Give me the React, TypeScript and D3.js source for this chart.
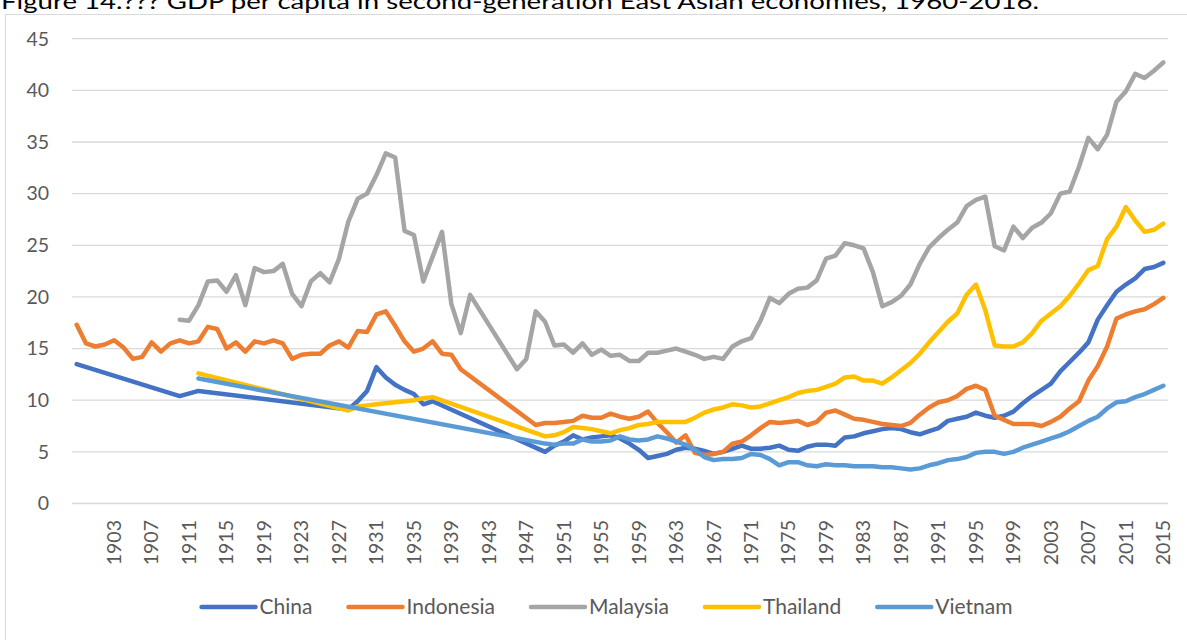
import React, { useRef, useEffect } from 'react';
import * as d3 from 'd3';

const _ = null;

// categories as labelled on the axis
const years = d3.range(1899, 2016);

// GDP per capita (relative), one value per category, null = no data
const china = [
  13.5, _, _, _, _, _, _, _, _, _,
  _, 10.4, _, 10.9, _, _, _, _, _, _,
  _, _, _, _, _, _, _, _, _, 9.1,
  9.9, 10.9, 13.2, 12.2, 11.5, 11.0, 10.6, 9.6, 9.9, _,
  _, _, _, _, _, _, _, _, _, _,
  5.0, 5.6, 6.0, 6.6, 6.2, 6.4, 6.5, 6.6, 6.3, 5.8,
  5.2, 4.4, 4.6, 4.8, 5.2, 5.4, 5.3, 5.1, 4.8, 5.0,
  5.3, 5.6, 5.3, 5.3, 5.4, 5.6, 5.2, 5.1, 5.5, 5.7,
  5.7, 5.6, 6.4, 6.5, 6.8, 7.0, 7.2, 7.3, 7.2, 6.9,
  6.7, 7.0, 7.3, 8.0, 8.2, 8.4, 8.8, 8.5, 8.3, 8.5,
  8.9, 9.7, 10.4, 11.0, 11.6, 12.8, 13.7, 14.6, 15.6, 17.8,
  19.2, 20.5, 21.2, 21.8, 22.7, 22.9, 23.3,
];

const indonesia = [
  17.3, 15.5, 15.2, 15.4, 15.8, 15.1, 14.0, 14.2, 15.6, 14.7,
  15.5, 15.8, 15.5, 15.7, 17.1, 16.9, 15.0, 15.6, 14.7, 15.7,
  15.5, 15.8, 15.5, 14.0, 14.4, 14.5, 14.5, 15.3, 15.7, 15.1,
  16.7, 16.6, 18.3, 18.6, 17.2, 15.7, 14.7, 15.0, 15.7, 14.5,
  14.4, 13.0, _, _, _, _, _, _, _, 7.6,
  7.8, 7.8, 7.9, 8.0, 8.5, 8.3, 8.3, 8.7, 8.4, 8.2,
  8.4, 8.9, 7.8, 6.9, 5.9, 6.6, 4.9, 4.7, 4.8, 5.0,
  5.8, 6.0, 6.6, 7.3, 7.9, 7.8, 7.9, 8.0, 7.6, 7.9,
  8.8, 9.0, 8.6, 8.2, 8.1, 7.9, 7.7, 7.6, 7.5, 7.8,
  8.6, 9.3, 9.8, 10.0, 10.4, 11.1, 11.4, 11.0, 8.5, 8.1,
  7.7, 7.7, 7.7, 7.5, 7.9, 8.4, 9.2, 9.9, 11.9, 13.3,
  15.2, 17.9, 18.3, 18.6, 18.8, 19.3, 19.9,
];

const malaysia = [
  _, _, _, _, _, _, _, _, _, _,
  _, 17.8, 17.7, 19.2, 21.5, 21.6, 20.5, 22.1, 19.2, 22.8,
  22.4, 22.5, 23.2, 20.3, 19.1, 21.5, 22.3, 21.4, 23.7, 27.3,
  29.5, 30.0, 31.8, 33.9, 33.5, 26.4, 26.0, 21.5, 23.9, 26.3,
  19.3, 16.5, 20.2, _, _, _, _, 13.0, 14.0, 18.6,
  17.6, 15.3, 15.4, 14.6, 15.5, 14.4, 14.9, 14.3, 14.4, 13.8,
  13.8, 14.6, 14.6, 14.8, 15.0, 14.7, 14.4, 14.0, 14.2, 14.0,
  15.2, 15.7, 16.0, 17.7, 19.9, 19.4, 20.3, 20.8, 20.9, 21.6,
  23.7, 24.0, 25.2, 25.0, 24.7, 22.4, 19.1, 19.5, 20.1, 21.2,
  23.2, 24.8, 25.7, 26.5, 27.2, 28.8, 29.4, 29.7, 24.9, 24.5,
  26.8, 25.7, 26.7, 27.2, 28.1, 30.0, 30.2, 32.6, 35.4, 34.3,
  35.7, 38.9, 39.9, 41.6, 41.2, 41.9, 42.7,
];

const thailand = [
  _, _, _, _, _, _, _, _, _, _,
  _, _, _, 12.6, _, _, _, _, _, _,
  _, _, _, _, _, _, _, _, _, 9.0,
  9.4, 9.5, 9.6, 9.7, 9.8, 9.9, 10.0, 10.2, 10.3, _,
  _, _, _, _, _, _, _, _, _, _,
  6.5, 6.6, 6.9, 7.4, 7.3, 7.2, 7.0, 6.8, 7.1, 7.3,
  7.6, 7.7, 7.9, 7.9, 7.9, 7.9, 8.3, 8.8, 9.1, 9.3,
  9.6, 9.5, 9.3, 9.4, 9.7, 10.0, 10.3, 10.7, 10.9, 11.0,
  11.3, 11.6, 12.2, 12.3, 11.9, 11.9, 11.6, 12.2, 12.9, 13.6,
  14.5, 15.6, 16.6, 17.6, 18.4, 20.2, 21.2, 18.7, 15.3, 15.2,
  15.2, 15.6, 16.5, 17.7, 18.4, 19.1, 20.1, 21.3, 22.6, 23.0,
  25.6, 26.8, 28.7, 27.4, 26.3, 26.5, 27.1,
];

const vietnam = [
  _, _, _, _, _, _, _, _, _, _,
  _, _, _, 12.1, _, _, _, _, _, _,
  _, _, _, _, _, _, _, _, _, _,
  _, _, _, _, _, _, _, _, _, _,
  _, _, _, _, _, _, _, _, _, _,
  5.8, 5.7, 5.8, 5.8, 6.2, 6.0, 6.0, 6.1, 6.5, 6.2,
  6.1, 6.2, 6.5, 6.3, 6.0, 5.7, 5.2, 4.5, 4.2, 4.3,
  4.3, 4.4, 4.8, 4.7, 4.3, 3.7, 4.0, 4.0, 3.7, 3.6,
  3.8, 3.7, 3.7, 3.6, 3.6, 3.6, 3.5, 3.5, 3.4, 3.3,
  3.4, 3.7, 3.9, 4.2, 4.3, 4.5, 4.9, 5.0, 5.0, 4.8,
  5.0, 5.4, 5.7, 6.0, 6.3, 6.6, 7.0, 7.5, 8.0, 8.4,
  9.2, 9.8, 9.9, 10.3, 10.6, 11.0, 11.4,
];

const seriesNames = ['China', 'Indonesia', 'Malaysia', 'Thailand', 'Vietnam'];
const seriesValues = [china, indonesia, malaysia, thailand, vietnam];
const seriesColors = ['#4472C4', '#ED7D31', '#A5A5A5', '#FFC000', '#5B9BD5'];

const yTicks = [0, 5, 10, 15, 20, 25, 30, 35, 40, 45];

const App = () => {
    const svgRef = useRef<SVGSVGElement>(null);

    useEffect(() => {
        const svg = d3.select(svgRef.current);
        svg.selectAll("*").remove();

        const left = 72, right = 1168, top = 38.7, bottom = 503.5;
        const font = 'Lato, "DejaVu Sans", sans-serif';
        const textColor = '#595959';

        // chart frame (runs off the bottom / right of the page)
        svg.append("rect")
            .attr("x", 5.5).attr("y", 14.5)
            .attr("width", 1300).attr("height", 700)
            .attr("fill", "#fff")
            .attr("stroke", "#D9D9D9");

        // caption, cut off at the top of the page like in the source
        svg.append("text")
            .attr("x", 1).attr("y", 9)
            .attr("font-family", font)
            .attr("font-size", 22)
            .attr("fill", "#000")
            .attr("textLength", 1038)
            .attr("lengthAdjust", "spacingAndGlyphs")
            .text("Figure 14.??? GDP per capita in second-generation East Asian economies, 1960-2016.");

        const x = d3.scaleBand<number>().domain(years).range([left, right]);
        const cx = (yr: number) => (x(yr) as number) + x.bandwidth() / 2;
        const y = d3.scaleLinear().domain([0, 45]).range([bottom, top]);

        // gridlines
        svg.append("g").selectAll("line")
            .data(yTicks)
            .join("line")
            .attr("x1", left).attr("x2", right)
            .attr("y1", d => y(d)).attr("y2", d => y(d))
            .attr("stroke", "#D9D9D9")
            .attr("stroke-width", 1.3);

        // value axis labels
        svg.append("g").selectAll("text")
            .data(yTicks)
            .join("text")
            .attr("x", 49)
            .attr("y", d => y(d))
            .attr("dy", "0.35em")
            .attr("text-anchor", "end")
            .attr("font-family", font)
            .attr("font-size", 19.5)
            .attr("fill", textColor)
            .text(d => d);

        // category labels, every fourth year, rotated
        const labelYears = years.filter(yr => yr >= 1903 && (yr - 1903) % 4 === 0);
        svg.append("g").selectAll("text")
            .data(labelYears)
            .join("text")
            .attr("transform", d => `translate(${cx(d)}, 520) rotate(-90)`)
            .attr("dy", "0.35em")
            .attr("text-anchor", "end")
            .attr("font-family", font)
            .attr("font-size", 19.5)
            .attr("fill", textColor)
            .text(d => d);

        // series lines (gaps bridged like Excel's "connect data points")
        const line = d3.line<[number, number]>()
            .x(d => cx(d[0]))
            .y(d => y(d[1]));

        seriesNames.forEach((name, k) => {
            const pts = years
                .map((yr, i) => [yr, seriesValues[k][i]] as [number, number | null])
                .filter(d => d[1] != null) as [number, number][];
            svg.append("path")
                .attr("d", line(pts))
                .attr("fill", "none")
                .attr("stroke", seriesColors[k])
                .attr("stroke-width", 4.5)
                .attr("stroke-linejoin", "round")
                .attr("stroke-linecap", "round");
        });

        // legend, centred under the plot
        const legend = svg.append("g");
        const items = seriesNames.map((name, k) => {
            const g = legend.append("g");
            g.append("line")
                .attr("x1", 0).attr("x2", 54)
                .attr("y1", 0).attr("y2", 0)
                .attr("stroke", seriesColors[k])
                .attr("stroke-width", 4.5)
                .attr("stroke-linecap", "round");
            const t = g.append("text")
                .attr("x", 58)
                .attr("dy", "0.35em")
                .attr("font-family", font)
                .attr("font-size", 21)
                .attr("fill", textColor)
                .text(name);
            const w = 58 + (t.node() as SVGTextElement).getComputedTextLength();
            return { g, w };
        });
        const gap = 36;
        const total = d3.sum(items, d => d.w) + gap * (items.length - 1);
        let pos = 607 - total / 2;
        items.forEach(({ g, w }) => {
            g.attr("transform", `translate(${pos}, 607)`);
            pos += w + gap;
        });
    }, []);

    return (
        <svg ref={svgRef} width={1187} height={640}
            style={{ position: 'absolute', left: 0, top: 0, display: 'block' }} />
    );
};

export default App;
